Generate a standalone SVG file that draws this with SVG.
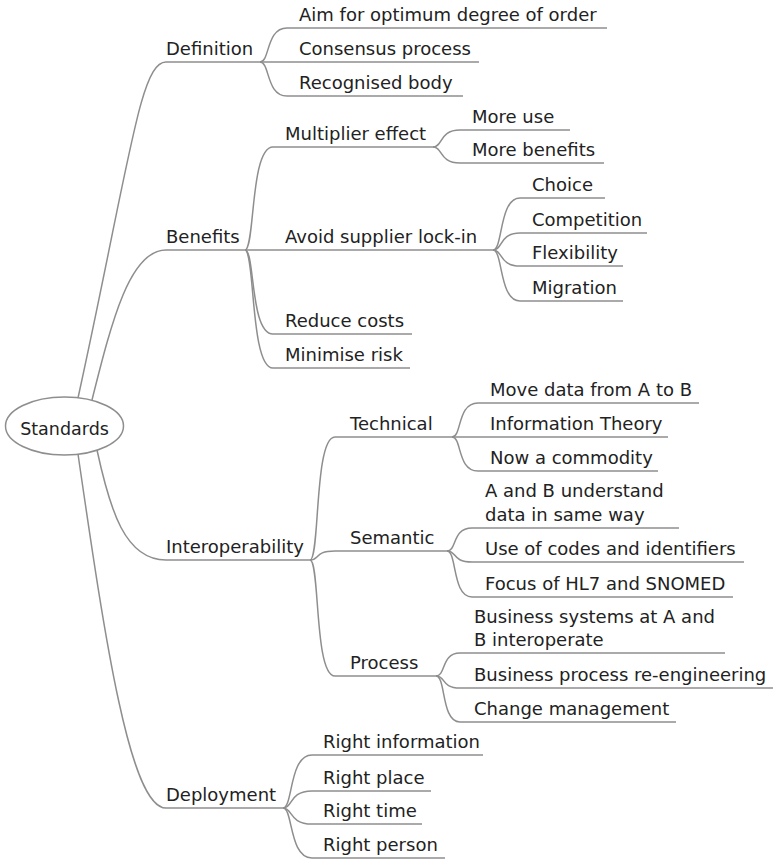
<svg xmlns="http://www.w3.org/2000/svg" width="773" height="861" viewBox="0 0 773 861">
  <style>
    .bg { fill: #ffffff; }
    .link { fill: none; stroke: #8e8e8e; stroke-width: 1.5; }
    .under { fill: none; stroke: #8e8e8e; stroke-width: 1.5; }
    .root { fill: #ffffff; stroke: #8e8e8e; stroke-width: 1.5; }
    text { font-family: "DejaVu Sans", "Liberation Sans", sans-serif; font-size: 18px; fill: #222222; }
    .rootlabel { font-size: 17.5px; text-anchor: middle; }
  </style>
  <rect class="bg" x="0" y="0" width="773" height="861"/>

  <!-- connectors -->
  <g id="connectors">
    <!-- root to main topics -->
    <path class="link" d="M78,398 C130,160 140,62 166,62"/>
    <path class="link" d="M92,400 C112,320 130,250 166,250"/>
    <path class="link" d="M97,450 C110,510 125,560 166,560"/>
    <path class="link" d="M78,454 C105,640 130,808 166,808"/>
    <!-- Definition -->
    <path class="link" d="M260,62 C270,62 266,28 287,28"/>
    <path class="link" d="M260,62 L287,62"/>
    <path class="link" d="M260,62 C270,62 266,96 287,96"/>
    <!-- Benefits -->
    <path class="link" d="M245,250 C255,250 250,147 273,147"/>
    <path class="link" d="M245,250 L273,250"/>
    <path class="link" d="M245,250 C255,250 250,334 273,334"/>
    <path class="link" d="M245,250 C255,250 250,368 273,368"/>
    <!-- Multiplier effect -->
    <path class="link" d="M433,147 C443,147 439,130 460,130"/>
    <path class="link" d="M433,147 C443,147 439,163 460,163"/>
    <!-- Avoid supplier lock-in -->
    <path class="link" d="M493,250 C503,250 499,198 520,198"/>
    <path class="link" d="M493,250 C503,250 499,233 520,233"/>
    <path class="link" d="M493,250 C503,250 499,266 520,266"/>
    <path class="link" d="M493,250 C503,250 499,301 520,301"/>
    <!-- Interoperability -->
    <path class="link" d="M310,560 C320,560 314,437 335,437"/>
    <path class="link" d="M310,560 C320,560 314,551 335,551"/>
    <path class="link" d="M310,560 C320,560 314,676 335,676"/>
    <!-- Technical -->
    <path class="link" d="M452,437 C462,437 457,403 478,403"/>
    <path class="link" d="M452,437 L478,437"/>
    <path class="link" d="M452,437 C462,437 457,471 478,471"/>
    <!-- Semantic -->
    <path class="link" d="M447,551 C457,551 452,528 472,528"/>
    <path class="link" d="M447,551 C457,551 452,562 472,562"/>
    <path class="link" d="M447,551 C457,551 452,597 472,597"/>
    <!-- Process -->
    <path class="link" d="M436,676 C446,676 441,653 460,653"/>
    <path class="link" d="M436,676 C446,676 441,688 460,688"/>
    <path class="link" d="M436,676 C446,676 441,722 460,722"/>
    <!-- Deployment -->
    <path class="link" d="M283,808 C293,808 289,755 312,755"/>
    <path class="link" d="M283,808 C293,808 289,791 312,791"/>
    <path class="link" d="M283,808 C293,808 289,824 312,824"/>
    <path class="link" d="M283,808 C293,808 289,858 312,858"/>
  </g>

  <!-- central topic -->
  <g id="standards">
    <ellipse class="root" cx="64.5" cy="426" rx="59" ry="29"/>
    <text class="rootlabel" x="64.5" y="435">Standards</text>
  </g>

  <!-- main topics -->
  <g id="definition">
    <path class="under" d="M166,62 H260"/>
    <text x="166" y="55">Definition</text>
  </g>
  <g id="benefits">
    <path class="under" d="M166,250 H245"/>
    <text x="166" y="243">Benefits</text>
  </g>
  <g id="interoperability">
    <path class="under" d="M166,560 H310"/>
    <text x="166" y="553">Interoperability</text>
  </g>
  <g id="deployment">
    <path class="under" d="M166,808 H283"/>
    <text x="166" y="801">Deployment</text>
  </g>

  <!-- Definition subtopics -->
  <g id="aim-for-order">
    <path class="under" d="M287,28 H607"/>
    <text x="299" y="21">Aim for optimum degree of order</text>
  </g>
  <g id="consensus-process">
    <path class="under" d="M287,62 H479"/>
    <text x="299" y="55">Consensus process</text>
  </g>
  <g id="recognised-body">
    <path class="under" d="M287,96 H463"/>
    <text x="299" y="89">Recognised body</text>
  </g>

  <!-- Benefits subtopics -->
  <g id="multiplier-effect">
    <path class="under" d="M273,147 H433"/>
    <text x="285" y="140">Multiplier effect</text>
  </g>
  <g id="more-use">
    <path class="under" d="M460,130 H570"/>
    <text x="472" y="123">More use</text>
  </g>
  <g id="more-benefits">
    <path class="under" d="M460,163 H604"/>
    <text x="472" y="156">More benefits</text>
  </g>
  <g id="avoid-lock-in">
    <path class="under" d="M273,250 H493"/>
    <text x="285" y="243">Avoid supplier lock-in</text>
  </g>
  <g id="choice">
    <path class="under" d="M520,198 H605"/>
    <text x="532" y="191">Choice</text>
  </g>
  <g id="competition">
    <path class="under" d="M520,233 H647"/>
    <text x="532" y="226">Competition</text>
  </g>
  <g id="flexibility">
    <path class="under" d="M520,266 H623"/>
    <text x="532" y="259">Flexibility</text>
  </g>
  <g id="migration">
    <path class="under" d="M520,301 H623"/>
    <text x="532" y="294">Migration</text>
  </g>
  <g id="reduce-costs">
    <path class="under" d="M273,334 H412"/>
    <text x="285" y="327">Reduce costs</text>
  </g>
  <g id="minimise-risk">
    <path class="under" d="M273,368 H410"/>
    <text x="285" y="361">Minimise risk</text>
  </g>

  <!-- Interoperability subtopics -->
  <g id="technical">
    <path class="under" d="M335,437 H452"/>
    <text x="350" y="430">Technical</text>
  </g>
  <g id="move-data">
    <path class="under" d="M478,403 H699"/>
    <text x="490" y="396">Move data from A to B</text>
  </g>
  <g id="information-theory">
    <path class="under" d="M478,437 H668"/>
    <text x="490" y="430">Information Theory</text>
  </g>
  <g id="commodity">
    <path class="under" d="M478,471 H658"/>
    <text x="490" y="464">Now a commodity</text>
  </g>
  <g id="semantic">
    <path class="under" d="M335,551 H447"/>
    <text x="350" y="544">Semantic</text>
  </g>
  <g id="understand-data">
    <path class="under" d="M472,528 H679"/>
    <text x="485" y="497">A and B understand</text>
    <text x="485" y="521">data in same way</text>
  </g>
  <g id="codes-identifiers">
    <path class="under" d="M472,562 H744"/>
    <text x="485" y="555">Use of codes and identifiers</text>
  </g>
  <g id="hl7-snomed">
    <path class="under" d="M472,597 H733"/>
    <text x="485" y="590">Focus of HL7 and SNOMED</text>
  </g>
  <g id="process">
    <path class="under" d="M335,676 H436"/>
    <text x="350" y="669">Process</text>
  </g>
  <g id="business-systems">
    <path class="under" d="M460,653 H725"/>
    <text x="474" y="623">Business systems at A and</text>
    <text x="474" y="646">B interoperate</text>
  </g>
  <g id="re-engineering">
    <path class="under" d="M460,688 H773"/>
    <text x="474" y="681">Business process re-engineering</text>
  </g>
  <g id="change-management">
    <path class="under" d="M460,722 H676"/>
    <text x="474" y="715">Change management</text>
  </g>

  <!-- Deployment subtopics -->
  <g id="right-information">
    <path class="under" d="M312,755 H483"/>
    <text x="323" y="748">Right information</text>
  </g>
  <g id="right-place">
    <path class="under" d="M312,791 H431"/>
    <text x="323" y="784">Right place</text>
  </g>
  <g id="right-time">
    <path class="under" d="M312,824 H422"/>
    <text x="323" y="817">Right time</text>
  </g>
  <g id="right-person">
    <path class="under" d="M312,858 H445"/>
    <text x="323" y="851">Right person</text>
  </g>
</svg>
